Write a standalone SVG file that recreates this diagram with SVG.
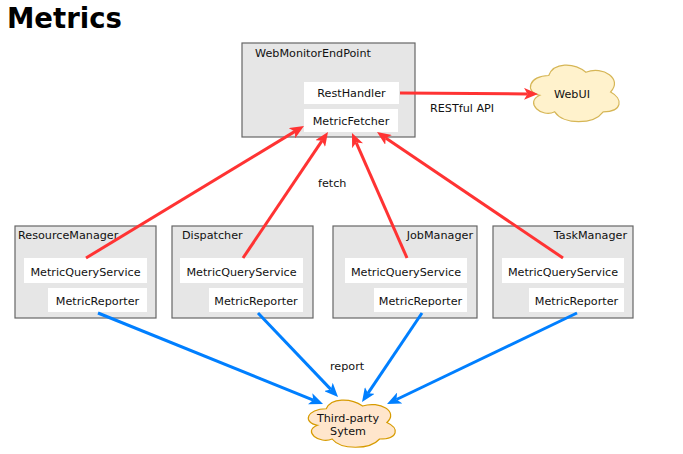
<svg xmlns="http://www.w3.org/2000/svg" width="683" height="454" viewBox="0 0 683 454">
<style>
.t{font-family:"DejaVu Sans",Verdana,sans-serif;font-size:11.2px;fill:#111111}
.c{text-anchor:middle}
.r{text-anchor:end}
.box{fill:#e6e6e6;stroke:#666666;stroke-width:1.2}
.in{fill:#ffffff}
.red{stroke:#ff3333;stroke-width:3;fill:none;marker-end:url(#ar)}
.blue{stroke:#007fff;stroke-width:3;fill:none;marker-end:url(#ab)}
</style>
<defs>
<marker id="ar" markerUnits="userSpaceOnUse" markerWidth="14" markerHeight="12" refX="3.5" refY="6" orient="auto"><path d="M0,0 L14,6 L0,12 L3.5,6 Z" fill="#ff3333"/></marker>
<marker id="ab" markerUnits="userSpaceOnUse" markerWidth="14" markerHeight="12" refX="3.5" refY="6" orient="auto"><path d="M0,0 L14,6 L0,12 L3.5,6 Z" fill="#007fff"/></marker>
</defs>
<rect width="683" height="454" fill="#ffffff"/>
<text x="7" y="28" style="font-family:'DejaVu Sans',sans-serif;font-weight:bold;font-size:27.5px;fill:#000">Metrics</text>

<g id="webmonitor">
<rect class="box" x="242" y="43" width="173" height="94"/>
<text class="t" x="255" y="57">WebMonitorEndPoint</text>
<rect class="in" x="304" y="82" width="95" height="22"/>
<text class="t c" x="351.5" y="97">RestHandler</text>
<rect class="in" x="304" y="109" width="94" height="23"/>
<text class="t c" x="351" y="124.5">MetricFetcher</text>
</g>

<g id="webui">
<path d="M548.75,75.5 C529,75.5 524,92 539.8,95.3 C524,102.6 541.8,118.4 554.7,111.8 C563.6,125 593.3,125 603.2,111.8 C623,111.8 623,98.6 610.6,92 C623,78.8 603.2,65.6 585.9,72.2 C573.5,62.3 553.7,62.3 548.75,75.5 Z" fill="#fff2cc" stroke="#d6b656" stroke-width="1.2"/>
<text class="t c" x="572" y="97.5">WebUI</text>
</g>

<g id="resourcemanager">
<rect class="box" x="15" y="226" width="141" height="92"/>
<text class="t" x="18" y="239">ResourceManager</text>
<rect class="in" x="24" y="258" width="123" height="25"/>
<text class="t c" x="85.5" y="275.5">MetricQueryService</text>
<rect class="in" x="48" y="288" width="99" height="24"/>
<text class="t c" x="97.5" y="304.5">MetricReporter</text>
</g>

<g id="dispatcher">
<rect class="box" x="172" y="226" width="141" height="92"/>
<text class="t" x="182" y="239">Dispatcher</text>
<rect class="in" x="180" y="258" width="123" height="25"/>
<text class="t c" x="241.5" y="275.5">MetricQueryService</text>
<rect class="in" x="209" y="288" width="94" height="24"/>
<text class="t c" x="256" y="304.5">MetricReporter</text>
</g>

<g id="jobmanager">
<rect class="box" x="333" y="226" width="144" height="92"/>
<text class="t r" x="473" y="239">JobManager</text>
<rect class="in" x="345" y="258" width="122" height="25"/>
<text class="t c" x="406" y="275.5">MetricQueryService</text>
<rect class="in" x="374" y="288" width="93" height="24"/>
<text class="t c" x="420.5" y="304.5">MetricReporter</text>
</g>

<g id="taskmanager">
<rect class="box" x="493" y="226" width="140" height="92"/>
<text class="t r" x="627" y="239">TaskManager</text>
<rect class="in" x="502" y="258" width="122" height="25"/>
<text class="t c" x="563" y="275.5">MetricQueryService</text>
<rect class="in" x="529" y="288" width="95" height="24"/>
<text class="t c" x="576.5" y="304.5">MetricReporter</text>
</g>

<g id="thirdparty">
<path d="M326.25,408.75 C306.85,408.75 302,422.5 317.5,425.25 C302,431.3 319.5,444.5 332.1,439 C340.8,450 369.9,450 379.6,439 C399,439 399,428 386.9,422.5 C399,411.5 379.6,400.5 362.6,406 C350.5,397.75 331.1,397.75 326.25,408.75 Z" fill="#ffe6cc" stroke="#d79b00" stroke-width="1.2"/>
<text class="t c" x="348" y="421.5">Third-party</text>
<text class="t c" x="348" y="434.5">Sytem</text>
</g>

<g id="connectors">
<line class="red" x1="86" y1="258" x2="295" y2="131.4"/>
<line class="red" x1="243" y1="258" x2="322.1" y2="140.7"/>
<line class="red" x1="407" y1="258" x2="356.2" y2="142.6"/>
<line class="red" x1="563" y1="258" x2="385.7" y2="137.9"/>
<line class="red" x1="400" y1="93" x2="527.5" y2="93.9"/>
<line class="blue" x1="98" y1="313" x2="313.3" y2="400.1"/>
<line class="blue" x1="258" y1="313" x2="330.8" y2="389.4"/>
<line class="blue" x1="422" y1="313" x2="367.9" y2="393.3"/>
<line class="blue" x1="577" y1="313" x2="396.5" y2="399.5"/>
<text class="t" x="318" y="187">fetch</text>
<text class="t" x="430" y="112">RESTful API</text>
<text class="t" x="330" y="370">report</text>
</g>
</svg>
